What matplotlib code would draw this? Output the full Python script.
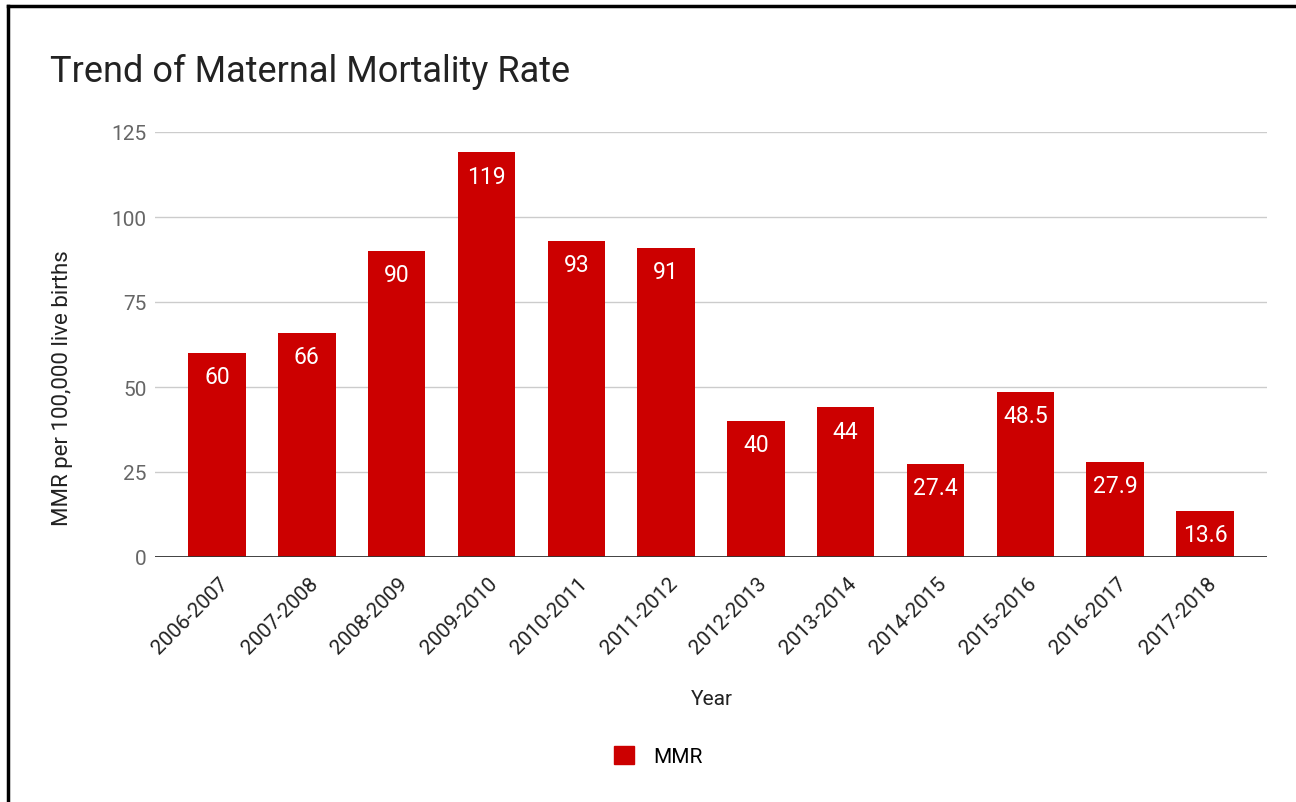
import matplotlib.pyplot as plt
from matplotlib.lines import Line2D
from matplotlib.patches import Patch
from matplotlib import transforms

plt.rcParams['font.family'] = ['Roboto', 'DejaVu Sans']

# data
years = ['2006-2007', '2007-2008', '2008-2009', '2009-2010', '2010-2011', '2011-2012',
         '2012-2013', '2013-2014', '2014-2015', '2015-2016', '2016-2017', '2017-2018']
mmr = [60, 66, 90, 119, 93, 91, 40, 44, 27.4, 48.5, 27.9, 13.6]
value_labels = ['60', '66', '90', '119', '93', '91', '40', '44', '27.4', '48.5', '27.9', '13.6']
y_ticks = [0, 25, 50, 75, 100, 125]

red = '#cc0000'

fig = plt.figure(figsize=(12.96, 8.03), dpi=100)
ax = fig.add_axes([155 / 1296, 1 - 558 / 803, 1112 / 1296, 425 / 803])

x = list(range(len(years)))
bars = ax.bar(x, mmr, width=0.64, color=red, zorder=3)

# value labels inside the top of each bar
for xi, v, lab in zip(x, mmr, value_labels):
    ax.annotate(lab, (xi, v), xytext=(0, -17), textcoords='offset points',
                ha='center', va='center', color='white', fontsize=16.5, zorder=4)

ax.set_ylim(0, 125)
ax.set_xlim(-0.69, 11.69)
ax.set_yticks(y_ticks)
ax.set_yticklabels([str(t) for t in y_ticks])
ax.yaxis.grid(True, color='#cccccc', linewidth=1, zorder=0)
ax.axhline(0, color='#333333', linewidth=1.3, zorder=5)
for s in ax.spines.values():
    s.set_visible(False)
ax.tick_params(axis='both', length=0)
ax.tick_params(axis='y', labelsize=15, labelcolor='#666666', pad=6)

ax.set_xticks(x)
ax.set_xticklabels(years, rotation=45, ha='right', va='center',
                   rotation_mode='anchor', fontsize=15, color='#222222')
ax.tick_params(axis='x', pad=0)
offset = transforms.ScaledTranslation(0.08, -0.23, fig.dpi_scale_trans)
for lbl in ax.get_xticklabels():
    lbl.set_transform(lbl.get_transform() + offset)

ax.set_ylabel('MMR per 100,000 live births', fontsize=16, color='#222222')
ax.yaxis.set_label_coords(-0.074, 0.40)

fig.text(50 / 1296, 1 - 72 / 803, 'Trend of Maternal Mortality Rate',
         fontsize=26, color='#222222', ha='left', va='center')
fig.text(712 / 1296, 1 - 700 / 803, 'Year', fontsize=15, color='#222222',
         ha='center', va='center')

handle = Patch(facecolor=red, edgecolor=red, label='MMR')
fig.legend(handles=[handle], loc='center', bbox_to_anchor=(658 / 1296, 1 - 757 / 803),
           frameon=False, fontsize=15, handlelength=1.0, handleheight=1.0,
           handletextpad=0.9)

# screenshot border along the top and left edges
fig.add_artist(Line2D([8 / 1296, 1], [1 - 7 / 803, 1 - 7 / 803],
                      transform=fig.transFigure, color='black', linewidth=2.5))
fig.add_artist(Line2D([8 / 1296, 8 / 1296], [0, 1 - 7 / 803],
                      transform=fig.transFigure, color='black', linewidth=2.5))

fig.savefig('out.png', dpi=100)
